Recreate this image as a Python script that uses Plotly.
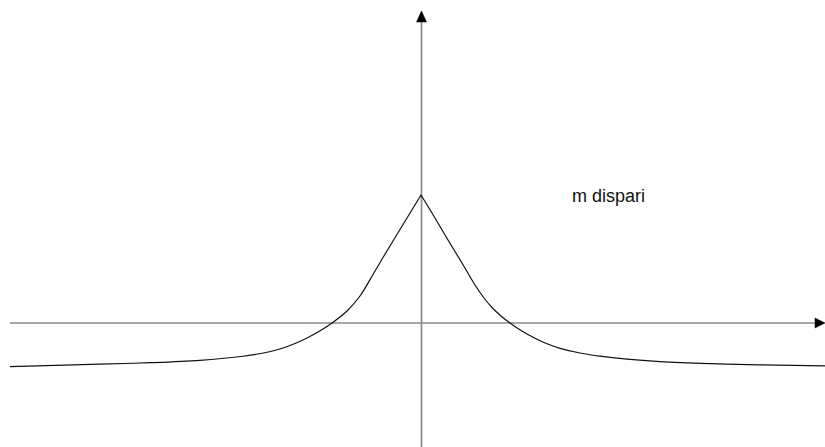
import plotly.graph_objects as go

# Curve samples (x, y) in plot units; origin at the axes' crossing.
left_x = [-411, -321, -271, -221, -180, -160, -141, -126, -113, -100, -89, -74, -61, -48, -38, -28, -14, 0]
left_y = [-43.7, -41.2, -39.7, -37.3, -33.5, -30.5, -26, -20.5, -14.5, -7.3, 0, 12, 27, 48.5, 65.5, 82, 105, 128]

right_x = [0, 14, 27, 41, 54, 63, 71, 80, 89, 100, 114, 126, 139, 159, 179, 206, 239, 289, 339, 404]
right_y = [128, 105, 83, 60, 38, 25, 15.5, 7, 0, -7.5, -15.3, -20.8, -25.3, -30, -33.2, -36.2, -38.6, -40.6, -41.8, -42.8]

label_text = "m dispari"

fig = go.Figure()

axis_color = "#8a8a8a"
shapes = [
    # horizontal axis
    dict(type="line", x0=-411, x1=396, y0=0, y1=0,
         line=dict(color=axis_color, width=1.7), layer="below"),
    # vertical axis
    dict(type="line", x0=0.5, x1=0.5, y0=-124, y1=303,
         line=dict(color=axis_color, width=1.7), layer="below"),
    # arrowheads
    dict(type="path", path="M 394 -5 L 404 0 L 394 5 Z",
         fillcolor="black", line=dict(color="black", width=0.5)),
    dict(type="path", path="M -4.5 301 L 0.5 312 L 5.5 301 Z",
         fillcolor="black", line=dict(color="black", width=0.5)),
]

for xs, ys in ((left_x, left_y), (right_x, right_y)):
    fig.add_trace(go.Scatter(
        x=xs, y=ys, mode="lines",
        line=dict(color="#111111", width=1.2, shape="spline", smoothing=1),
        hoverinfo="skip", showlegend=False,
    ))

fig.add_annotation(
    x=187, y=127, text=label_text, showarrow=False,
    xanchor="center", yanchor="middle",
    font=dict(family="Liberation Sans, Arial, sans-serif", size=18, color="#111111"),
)

fig.update_layout(
    width=825, height=447,
    margin=dict(l=0, r=0, t=0, b=0),
    paper_bgcolor="white", plot_bgcolor="white",
    shapes=shapes,
    xaxis=dict(range=[-421, 404], visible=False, fixedrange=True),
    yaxis=dict(range=[-124, 323], visible=False, fixedrange=True),
)

fig.write_html("out.html")
